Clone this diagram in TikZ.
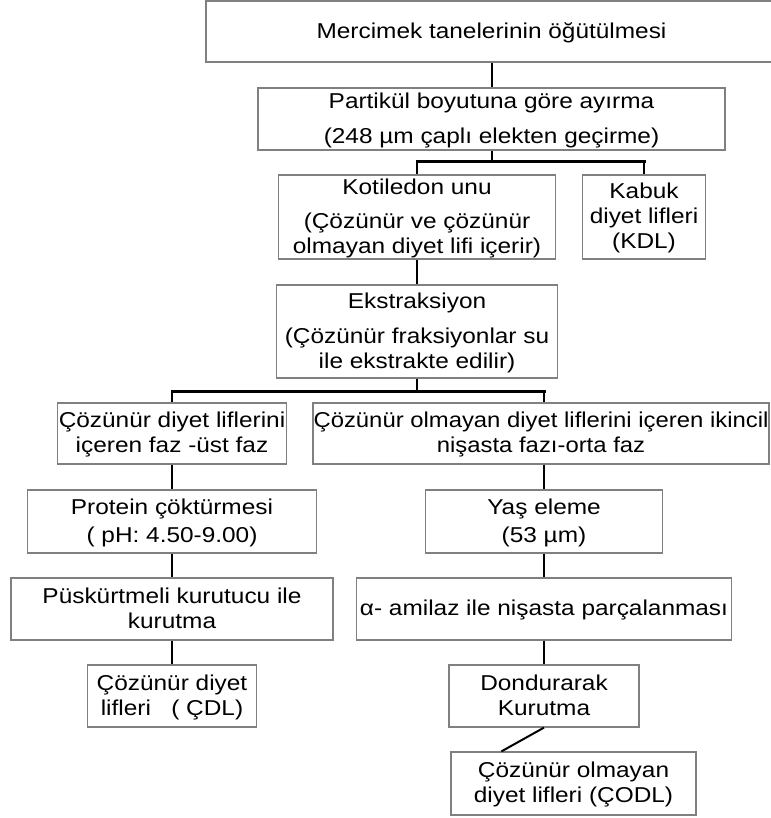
\documentclass[tikz,border=0pt]{standalone}
\usepackage{fontspec}
\setmainfont{Liberation Sans}[FakeStretch=1.135]
\newfontfamily\narrowfont{Liberation Sans}[FakeStretch=1.11]
\newcommand\boxfont{\fontsize{21.5}{25}\selectfont}
\newcommand\tp{\rule{0pt}{19pt}}
\newcommand\bt{\rule[-5.5pt]{0pt}{0pt}}
\definecolor{boxgray}{RGB}{128,128,128}
\begin{document}
\begin{tikzpicture}[x=1pt,y=-1pt,
  box/.style={draw=boxgray, line width=1.2pt, inner sep=0pt, align=center, font=\boxfont},
  conn/.style={line width=2pt, black},
  bar/.style={line width=3pt, black, line cap=rect}]
\useasboundingbox[fill=white] (0,0) rectangle (770,818);
% boxes
\node[box, minimum width=571pt, minimum height=61pt] (b1) at (491.5,31.5) {\tp Mercimek tanelerinin öğütülmesi\bt};
\node[box, minimum width=467pt, minimum height=62pt] (b2) at (491.5,119) {\tp Partikül boyutuna göre ayırma\\[10pt](248 µm çaplı elekten geçirme)\bt};
\node[box, minimum width=277.5pt, minimum height=84pt] (kot) at (417,217) {\tp Kotiledon unu\\[9pt](Çözünür ve çözünür\\olmayan diyet lifi içerir)\bt};
\node[box, minimum width=122.5pt, minimum height=84pt] (kab) at (644,217) {\tp Kabuk\\diyet lifleri\\(KDL)\bt};
\node[box, minimum width=281.5pt, minimum height=93pt] (ekst) at (417,331.5) {\tp Ekstraksiyon\\[10pt](Çözünür fraksiyonlar su\\ile ekstrakte edilir)\bt};
\node[box, minimum width=228.5pt, minimum height=61pt] (cdl1) at (172,433.5) {\tp Çözünür diyet liflerini\\içeren faz -üst faz\bt};
\node[box, minimum width=456pt, minimum height=61pt, font=\boxfont\narrowfont] (codl1) at (541,433.5) {\tp Çözünür olmayan diyet liflerini içeren ikincil\\nişasta fazı-orta faz\bt};
\node[box, minimum width=289pt, minimum height=63pt] (prot) at (172,521.5) {\tp Protein çöktürmesi\\[3pt]( pH: 4.50-9.00)\bt};
\node[box, minimum width=237pt, minimum height=63pt] (yas) at (544,521.5) {\tp Yaş eleme\\[3pt](53 µm)\bt};
\node[box, minimum width=322pt, minimum height=62pt] (pusk) at (172,609) {\tp Püskürtmeli kurutucu ile\\kurutma\bt};
\node[box, minimum width=374.5pt, minimum height=62pt] (amil) at (544,609) {\tp α- amilaz ile nişasta parçalanması\bt};
\node[box, minimum width=169pt, minimum height=62pt] (cdl) at (172,696) {\tp Çözünür diyet\\lifleri\ \ \ ( ÇDL)\bt};
\node[box, minimum width=190pt, minimum height=62pt] (dond) at (544,696) {\tp Dondurarak\\Kurutma\bt};
\node[box, minimum width=245pt, minimum height=63pt] (codl) at (573.5,783.5) {\tp Çözünür olmayan\\diyet lifleri (ÇODL)\bt};
% connectors
\coordinate (j1) at (491.5,162);
\coordinate (j2) at (417,391.5);
\draw[conn] (b1.south) -- (b2.north);
\draw[conn] (b2.south) -- (j1);
\draw[conn] (kot.north |- j1) -- (kot.north);
\draw[conn] (kab.north |- j1) -- (kab.north);
\draw[bar] (kot.north |- j1) -- (kab.north |- j1);
\draw[conn] (kot.south) -- (ekst.north);
\draw[conn] (ekst.south) -- (j2);
\draw[conn] (cdl1.north |- j2) -- (cdl1.north);
\draw[conn] (yas.north |- j2) -- (yas.north |- codl1.north);
\draw[bar] (cdl1.north |- j2) -- (yas.north |- j2);
\draw[conn] (cdl1.south) -- (prot.north);
\draw[conn] (prot.south) -- (pusk.north);
\draw[conn] (pusk.south) -- (cdl.north);
\draw[conn] (yas.north |- codl1.south) -- (yas.north);
\draw[conn] (yas.south) -- (amil.north);
\draw[conn] (amil.south) -- (dond.north);
\draw[conn] (dond.south) -- (codl.156);
\end{tikzpicture}
\end{document}
